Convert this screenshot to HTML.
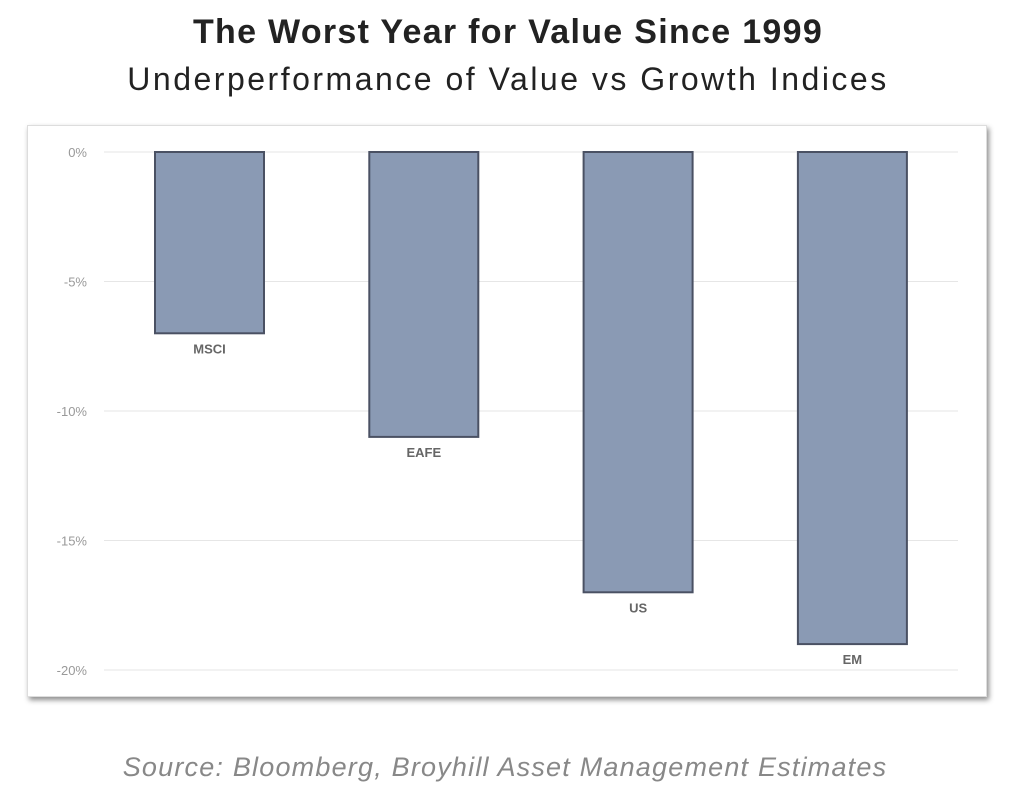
<!DOCTYPE html>
<html><head><meta charset="utf-8"><style>
body{margin:0;width:1024px;height:809px;background:#fff;overflow:hidden;font-family:"Liberation Sans",sans-serif;}
#title{position:absolute;top:13px;left:0;width:1016px;text-align:center;font-size:34px;font-weight:bold;color:#222;letter-spacing:1.3px;}
#subtitle{position:absolute;top:61px;left:0;width:1016px;text-align:center;font-size:32px;color:#222;letter-spacing:2.5px;}
#box{position:absolute;left:27px;top:125px;width:958px;height:570px;background:#fff;border:1px solid #ddd;box-shadow:2px 3px 5px rgba(0,0,0,0.45);}
#source{position:absolute;top:752px;left:0;width:1010px;text-align:center;font-size:27px;font-style:italic;color:#888;letter-spacing:1.2px;}
svg{position:absolute;left:0;top:0;}
</style></head><body>
<div id="title">The Worst Year for Value Since 1999</div>
<div id="subtitle">Underperformance of Value vs Growth Indices</div>
<div id="box"></div>
<svg id="chart" width="1024" height="809"></svg>
<div id="source">Source: Bloomberg, Broyhill Asset Management Estimates</div>
<script>
const categories=["MSCI","EAFE","US","EM"];
const values=[-7,-11,-17,-19];
const ticks=[0,-5,-10,-15,-20];
const tickLabels=["0%","-5%","-10%","-15%","-20%"];
const svg=document.getElementById('chart');
const NS='http://www.w3.org/2000/svg';
const y=v=>152+(-v)*25.9;
const x=i=>155+i*214.3;
const bw=109;
function mk(t,a){const e=document.createElementNS(NS,t);for(const k in a)e.setAttribute(k,a[k]);svg.appendChild(e);return e;}
ticks.forEach((t,i)=>{
  const g=mk('line',{x1:104,x2:958,y1:y(t),y2:y(t),stroke:'#e6e6e6','stroke-width':1});
  
  
  const l=mk('text',{x:87,y:y(t)+5,'text-anchor':'end','font-size':13,fill:'#999','font-family':'Liberation Sans, sans-serif'});
  l.textContent=tickLabels[i];
  
  
});
categories.forEach((c,i)=>{
  const r=mk('rect',{x:x(i),y:y(0),width:bw,height:y(values[i])-y(0),fill:'#8a9ab4',stroke:'#4a5163','stroke-width':2});
  
  
  const t=mk('text',{x:x(i)+bw/2,y:y(values[i])+20,'text-anchor':'middle','font-size':13,'font-weight':'bold',fill:'#666','font-family':'Liberation Sans, sans-serif'});
  t.textContent=c;
  
  
});
</script>
</body></html>
